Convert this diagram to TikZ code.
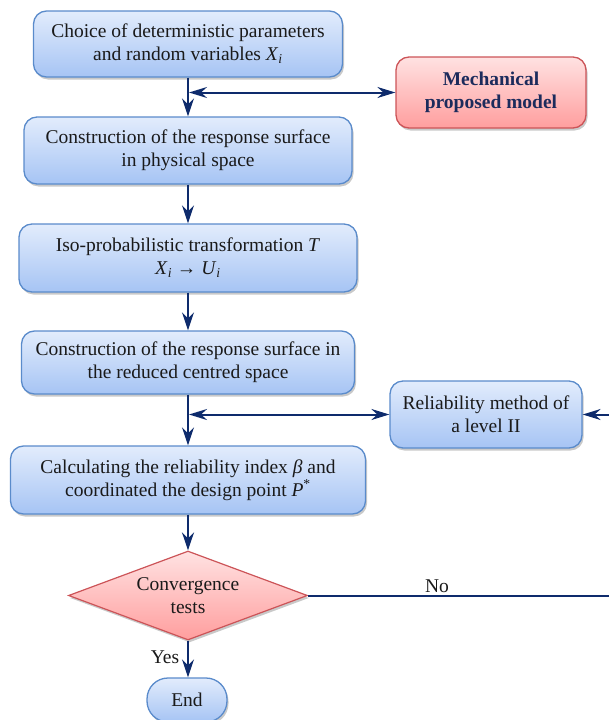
\documentclass[tikz,border=0pt]{standalone}
\usepackage{fontspec}
\setmainfont{Liberation Serif}
\newfontfamily\flowserif{Liberation Serif}
\usetikzlibrary{arrows.meta,shapes.geometric,shadows}

\definecolor{boxtop}{HTML}{E2ECFC}
\definecolor{boxbot}{HTML}{A6C4F4}
\definecolor{boxline}{HTML}{5A8BCB}
\definecolor{redtop}{HTML}{FFE2E2}
\definecolor{redbot}{HTML}{FF9E9E}
\definecolor{redline}{HTML}{CC5458}
\definecolor{flowc}{HTML}{0E2B6C}
\definecolor{navytext}{HTML}{1C2B5C}
\definecolor{inktext}{HTML}{1A1A1A}

\newcommand{\flowfont}{\flowserif\fontsize{19.5}{23}\selectfont}
% italic variable with an italic index, set in the text face
\newcommand{\varsub}[2]{\textit{#1}\textsubscript{\textit{#2}}}

\tikzset{
  boxshadow/.style={drop shadow={shadow xshift=1.5pt, shadow yshift=-2.5pt, opacity=0.3, fill=black!70}},
  proc/.style={draw=boxline, line width=1.3pt, rounded corners=13pt,
    top color=boxtop, bottom color=boxbot, boxshadow,
    align=center, font=\flowfont, text=inktext, inner sep=0pt},
  redbox/.style={draw=redline, line width=1.3pt, rounded corners=13pt,
    top color=redtop, bottom color=redbot, boxshadow,
    align=center, font=\flowfont\bfseries, text=navytext, inner sep=0pt},
  decide/.style={diamond, draw=redline, line width=1.2pt,
    top color=redtop, bottom color=redbot, boxshadow,
    align=center, font=\flowfont, text=inktext, inner sep=0pt},
  terminal/.style={draw=boxline, line width=1.3pt, rounded corners=21pt,
    top color=boxtop, bottom color=boxbot, boxshadow,
    align=center, font=\flowfont, text=inktext, inner sep=0pt},
  flow/.style={draw=flowc, line width=2.2pt,
    -{Stealth[length=18pt,width=12pt,inset=6pt]}},
  sidetip/.style={draw=flowc, line width=2pt,
    -{Stealth[length=18pt,width=11pt,inset=6pt]}},
  biflow/.style={draw=flowc, line width=2pt,
    {Stealth[length=18pt,width=11pt,inset=6pt]}-{Stealth[length=18pt,width=11pt,inset=6pt]}},
  label/.style={font=\flowfont, text=inktext, inner sep=0pt}
}

\begin{document}
\begin{tikzpicture}[x=1pt,y=-1pt]
\useasboundingbox (0,0) rectangle (609,720);
\clip (0,0) rectangle (609,720);

% main column of steps
\node[proc, minimum width=309pt, minimum height=66pt] (b1) at (188,44)
  {Choice of deterministic parameters\\and random variables \varsub{X}{i}};
\node[proc, minimum width=328pt, minimum height=67pt] (b2) at (188,150.5)
  {Construction of the response surface\\in physical space};
\node[proc, minimum width=338pt, minimum height=68pt] (b3) at (188,258)
  {Iso-probabilistic transformation \textit{T}\\\varsub{X}{i} → \varsub{U}{i}};
\node[proc, minimum width=333pt, minimum height=63pt] (b4) at (188,362.5)
  {Construction of the response surface in\\the reduced centred space};
\node[proc, minimum width=355pt, minimum height=68pt] (b5) at (188,480)
  {Calculating the reliability index \textit{β} and\\coordinated the design point \textit{P}\textsuperscript{*}};
\node[decide, minimum width=239pt, minimum height=89pt, aspect=2.7] (conv) at (188,595.5)
  {Convergence\\tests};
\node[terminal, minimum width=80pt, minimum height=44pt] (end) at (187,700) {End};

% side boxes
\node[redbox, minimum width=190pt, minimum height=71pt] (mech) at (491,92.5)
  {Mechanical\\proposed model};
\node[proc, minimum width=192pt, minimum height=67pt] (rel) at (486,414.5)
  {Reliability method of\\a level II};

% vertical flow
\draw[flow] (b1) -- (b2);
\draw[flow] (b2) -- (b3);
\draw[flow] (b3) -- (b4);
\draw[flow] (b4) -- (b5);
\draw[flow] (b5) -- (conv);
\draw[flow] (conv.south) -- (end.north -| conv.south);

% links to the side boxes
\coordinate (j1) at (b1.south |- mech.west);
\coordinate (j2) at (b4.south |- rel.west);
\draw[biflow] ([xshift=1pt]j1) -- (mech.west);
\draw[biflow] ([xshift=1pt]j2) -- (rel.west);

% loop back when not converged
\coordinate (loop) at (640,0);
\draw[sidetip] (conv.east) -- (conv.east -| loop) |- (rel.east);

\node[label] (no) at (437,586) {No};
\node[label] (yes) at (165,657) {Yes};
\end{tikzpicture}
\end{document}
